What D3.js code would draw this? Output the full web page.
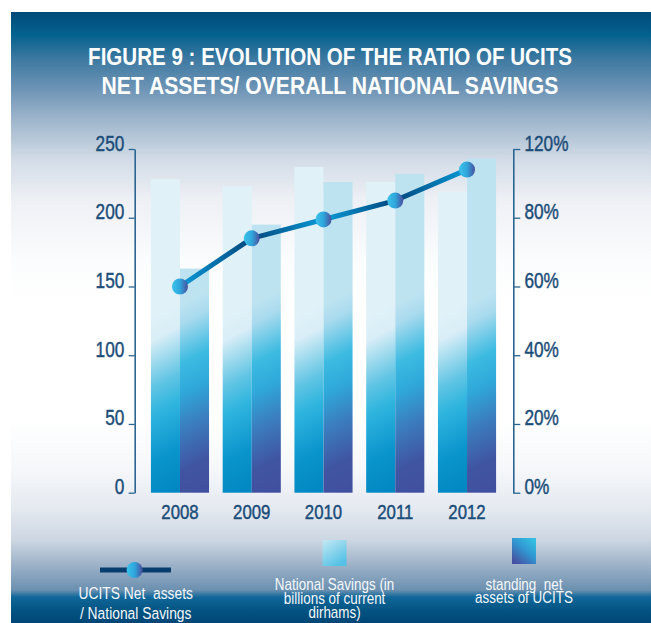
<!DOCTYPE html>
<html>
<head>
<meta charset="utf-8">
<script src="https://cdn.jsdelivr.net/npm/d3@7"></script>
<style>
  body { margin: 0; background: #fff; }
  svg { display: block; }
  text { font-family: "Liberation Sans", Arial, sans-serif; }
</style>
</head>
<body>
<div id="chart"></div>
<script>
// Chart data
const years = ["2008", "2009", "2010", "2011", "2012"];
const nationalSavings = [228, 223, 237, 226, 219];     // billions of current dirhams
const ucitsNetAssets = [163, 195, 226, 232, 243];       // standing net assets of UCITS
const ratio = [0.60, 0.74, 0.795, 0.85, 0.94];          // net assets / national savings
const leftTicks = [0, 50, 100, 150, 200, 250];
const rightTicks = [0, 0.2, 0.4, 0.6, 0.8, 1.0];
const rightTickLabels = ["0%", "20%", "40%", "60%", "80%", "120%"];
const titleLines = ["FIGURE 9 : EVOLUTION OF THE RATIO OF UCITS", "NET ASSETS/ OVERALL NATIONAL SAVINGS"];

const W = 651, H = 623;
const axisColor = "#2b6591";
const labelColor = "#1b4d78";

// the figure uses a condensed face, so regular text is squeezed horizontally
const condense = (sel, k, xPos) => sel.attr("x", xPos / k).attr("transform", `scale(${k},1)`);

const svg = d3.select("#chart").append("svg")
    .attr("width", W)
    .attr("height", H);

const defs = svg.append("defs");

// Background panel gradient
const bg = defs.append("linearGradient")
    .attr("id", "bg")
    .attr("gradientUnits", "userSpaceOnUse")
    .attr("x1", 0).attr("y1", 12).attr("x2", 0).attr("y2", H);
[[12, "#004a78"], [35, "#04628e"], [60, "#3f7aa2"], [90, "#6f95b6"], [120, "#9fb6cc"],
 [160, "#d3dce7"], [200, "#eef0f5"], [260, "#fbfcfd"], [300, "#ffffff"], [420, "#ffffff"],
 [470, "#f5f7fa"], [510, "#e4e9f0"], [540, "#ccd6e2"], [565, "#9db2c8"], [590, "#6b90b0"],
 [597, "#11689a"], [610, "#035482"], [623, "#004676"]]
    .forEach(([y, c]) => bg.append("stop").attr("offset", (y - 12) / (H - 12)).attr("stop-color", c));

svg.append("rect")
    .attr("x", 11).attr("y", 12)
    .attr("width", W - 11).attr("height", H - 12)
    .attr("fill", "url(#bg)");

// Title, squeezed to the width it has in the figure
const titleWidths = [484, 457];
svg.selectAll(".title")
    .data(titleLines)
    .enter()
    .append("text")
    .attr("class", "title")
    .attr("y", (d, i) => 64.7 + i * 29.5)
    .attr("text-anchor", "middle")
    .attr("fill", "#ffffff")
    .style("font-size", "24.5px")
    .style("font-weight", "bold")
    .text(d => d)
    .each(function(d, i) {
        const k = titleWidths[i] / this.getComputedTextLength();
        condense(d3.select(this), k, 330);
    });

// Scales
const x = d3.scaleBand()
    .domain(years)
    .range([144.1, 502.9])
    .paddingInner(0.19)
    .paddingOuter(0.095);

const xSub = d3.scaleBand()
    .domain(["savings", "assets"])
    .range([0, x.bandwidth()]);

const y = d3.scaleLinear()
    .domain([0, 250])
    .range([492.7, 149]);

const yR = d3.scaleLinear()
    .domain([0, 1])
    .range([492.7, 149]);

// Bars: one gradient per bar, in page space so the colour band sits at the same height
const barStops = {
    savings: [[0, "#e0f1f8"], [0.12, "#d9eef7"], [0.36, "#62c5e4"], [0.5, "#30b5df"], [0.75, "#0a94cc"], [1, "#0084bf"]],
    assets: [[0, "#bde3f1"], [0.1, "#a8daee"], [0.3, "#3dbbe1"], [0.45, "#2fa9da"], [0.65, "#3b7bbd"], [0.85, "#4055a2"], [1, "#41509e"]]
};

const barData = [];
years.forEach((yr, i) => {
    barData.push({ year: yr, key: "savings", value: nationalSavings[i], id: "bs" + i });
    barData.push({ year: yr, key: "assets", value: ucitsNetAssets[i], id: "ba" + i });
});

barData.forEach(d => {
    const bx = x(d.year) + xSub(d.key);
    const g = defs.append("linearGradient")
        .attr("id", d.id)
        .attr("gradientUnits", "userSpaceOnUse")
        .attr("x1", bx).attr("y1", d.key === "savings" ? 318 : 305)
        .attr("x2", bx + 80).attr("y2", d.key === "savings" ? 470 : 460);
    barStops[d.key].forEach(([o, c]) => g.append("stop").attr("offset", o).attr("stop-color", c));
});

svg.append("g")
    .selectAll("rect")
    .data(barData)
    .enter()
    .append("rect")
    .attr("x", d => x(d.year) + xSub(d.key))
    .attr("y", d => y(d.value))
    .attr("width", xSub.bandwidth())
    .attr("height", d => y(0) - y(d.value))
    .attr("fill", d => `url(#${d.id})`);

// Left axis
const leftAxis = svg.append("g")
    .attr("transform", `translate(134.7,0)`)
    .call(d3.axisLeft(y).tickValues(leftTicks).tickSize(6).tickSizeOuter(0));

// Right axis
const rightAxis = svg.append("g")
    .attr("transform", `translate(513.3,0)`)
    .call(d3.axisRight(yR).tickValues(rightTicks).tickSize(7).tickSizeOuter(0)
        .tickFormat((d, i) => rightTickLabels[i]));

[leftAxis, rightAxis].forEach(ax => {
    ax.select(".domain").attr("stroke", axisColor).attr("stroke-width", 1.6);
    ax.selectAll(".tick line").attr("stroke", axisColor).attr("stroke-width", 1.3);
    ax.selectAll(".tick text")
        .attr("dy", null)
        .attr("y", 1)
        .attr("fill", labelColor)
        .attr("stroke", labelColor)
        .attr("stroke-width", 0.45)
        .style("font-size", "21.5px")
        .style("font-family", '"Liberation Sans", Arial, sans-serif');
});
condense(leftAxis.selectAll(".tick text"), 0.8, -10.4);
condense(rightAxis.selectAll(".tick text"), 0.8, 11.2);

// Year labels
const xAxis = svg.append("g")
    .attr("transform", `translate(0,${y(0)})`)
    .call(d3.axisBottom(x).tickSize(0));
xAxis.select(".domain").remove();
xAxis.selectAll(".tick text")
    .attr("y", 26.6)
    .attr("dy", null)
    .attr("fill", labelColor)
    .attr("stroke", labelColor)
    .attr("stroke-width", 0.45)
    .style("font-size", "20px")
    .style("font-family", '"Liberation Sans", Arial, sans-serif');
condense(xAxis.selectAll(".tick text"), 0.84, 0);

// Ratio line, drawn as gradient segments
const pts = years.map((yr, i) => [x(yr) + x.bandwidth() / 2, yR(ratio[i])]);
const lightBlue = "#0a9ad8", darkBlue = "#00467c";
const line = d3.line();

d3.pairs(pts).forEach(([a, b], i) => {
    const g = defs.append("linearGradient")
        .attr("id", "seg" + i)
        .attr("gradientUnits", "userSpaceOnUse")
        .attr("x1", a[0]).attr("y1", a[1]).attr("x2", b[0]).attr("y2", b[1]);
    g.append("stop").attr("offset", 0).attr("stop-color", i % 2 === 0 ? lightBlue : darkBlue);
    g.append("stop").attr("offset", 1).attr("stop-color", i % 2 === 0 ? darkBlue : lightBlue);
    svg.append("path")
        .attr("d", line([a, b]))
        .attr("fill", "none")
        .attr("stroke", `url(#seg${i})`)
        .attr("stroke-width", 5)
        .attr("stroke-linecap", "round");
});

// Markers
const mg = defs.append("linearGradient").attr("id", "marker");
mg.append("stop").attr("offset", 0).attr("stop-color", "#3cc2ea");
mg.append("stop").attr("offset", 0.5).attr("stop-color", "#2ea6dc");
mg.append("stop").attr("offset", 1).attr("stop-color", "#4b4e9d");

svg.selectAll(".pt")
    .data(pts)
    .enter()
    .append("circle")
    .attr("class", "pt")
    .attr("cx", d => d[0])
    .attr("cy", d => d[1])
    .attr("r", 8)
    .attr("fill", "url(#marker)");

// Legend
const legend = svg.append("g");

legend.append("line")
    .attr("x1", 100).attr("x2", 171)
    .attr("y1", 570).attr("y2", 570)
    .attr("stroke", "#083e6e")
    .attr("stroke-width", 5);
legend.append("circle")
    .attr("cx", 134.6).attr("cy", 570)
    .attr("r", 8)
    .attr("fill", "url(#marker)");

const lg1 = defs.append("linearGradient").attr("id", "lg1")
    .attr("x1", 0).attr("y1", 0).attr("x2", 0.6).attr("y2", 1);
lg1.append("stop").attr("offset", 0).attr("stop-color", "#c4e8f4");
lg1.append("stop").attr("offset", 1).attr("stop-color", "#55c2e5");
legend.append("rect")
    .attr("x", 322.5).attr("y", 540)
    .attr("width", 24).attr("height", 26)
    .attr("fill", "url(#lg1)");

const lg2 = defs.append("linearGradient").attr("id", "lg2")
    .attr("x1", 0.9).attr("y1", 0.1).attr("x2", 0.2).attr("y2", 1);
lg2.append("stop").attr("offset", 0).attr("stop-color", "#33bee2");
lg2.append("stop").attr("offset", 0.45).attr("stop-color", "#3196d0");
lg2.append("stop").attr("offset", 1).attr("stop-color", "#4650a0");
legend.append("rect")
    .attr("x", 512).attr("y", 538)
    .attr("width", 24).attr("height", 26)
    .attr("fill", "url(#lg2)");

const legendTexts = [
    { x: 135.7, lines: ["UCITS Net  assets", "/ National Savings"], y0: 599, dy: 20, size: 16.5 },
    { x: 334.6, lines: ["National Savings (in", "billions of current", "dirhams)"], y0: 589.6, dy: 14, size: 16 },
    { x: 524, lines: ["standing  net", "assets of UCITS"], y0: 589.6, dy: 13.8, size: 16 }
];

legendTexts.forEach(t => {
    const txt = legend.selectAll(null)
        .data(t.lines)
        .enter()
        .append("text")
        .attr("y", (d, i) => t.y0 + i * t.dy)
        .attr("text-anchor", "middle")
        .attr("fill", "#f4f7fa")
        .attr("xml:space", "preserve")
        .style("font-size", t.size + "px")
        .style("white-space", "pre")
        .text(d => d);
    condense(txt, 0.84, t.x);
});
</script>
</body>
</html>
